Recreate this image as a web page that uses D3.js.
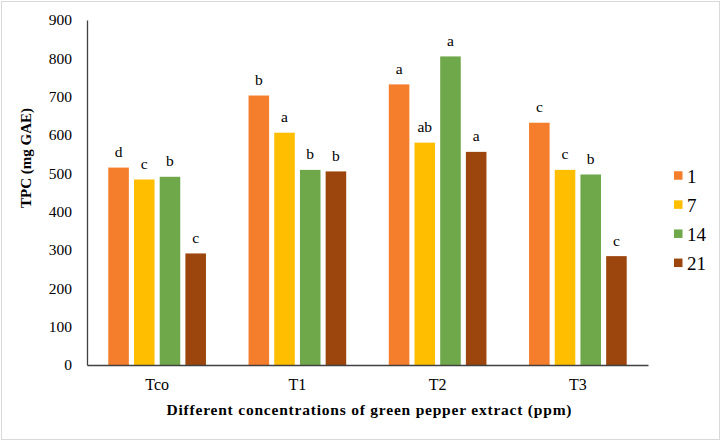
<!DOCTYPE html>
<html>
<head>
<meta charset="utf-8">
<script src="https://cdn.jsdelivr.net/npm/d3@7"></script>
<style>
  html, body { margin: 0; padding: 0; background: #fff; }
  svg { display: block; }
</style>
</head>
<body>
<svg id="chart" width="721" height="441"></svg>
<script>
const categories = ["Tco", "T1", "T2", "T3"];
const seriesNames = ["1", "7", "14", "21"];
const seriesColors = ["#F47E2B", "#FFBF00", "#6FA84A", "#9C460D"];
const values1 = [515, 703, 732, 632];
const values7 = [484, 606, 580, 509];
const values14 = [491, 509, 805, 497];
const values21 = [291, 505, 556, 284];
const letters1 = ["d", "b", "a", "c"];
const letters7 = ["c", "a", "ab", "c"];
const letters14 = ["b", "b", "a", "b"];
const letters21 = ["c", "b", "a", "c"];
const yTicks = [0, 100, 200, 300, 400, 500, 600, 700, 800, 900];

const seriesValues = [values1, values7, values14, values21];
const seriesLetters = [letters1, letters7, letters14, letters21];

const svg = d3.select("#chart");
const FONT = '"Liberation Serif"';

// outer frame
svg.append("rect").attr("x", 1.5).attr("y", 1.5).attr("width", 718).attr("height", 438)
  .attr("fill", "#fff").attr("stroke", "#d9d9d9").attr("stroke-width", 1);

const pLeft = 87, pRight = 648, pTop = 20, pBottom = 365;

const y = d3.scaleLinear().domain([0, 900]).range([pBottom, pTop]);
const x0 = d3.scaleBand().domain(categories).range([pLeft, pRight]).paddingInner(0.267).paddingOuter(0.1335);
const x1 = d3.scaleBand().domain(seriesNames).range([0, x0.bandwidth()]).paddingInner(0.2).paddingOuter(0.1);

// bars
const data = [];
categories.forEach((c, ci) => {
  seriesNames.forEach((s, si) => {
    data.push({ cat: c, ser: s, si: si, value: seriesValues[si][ci], letter: seriesLetters[si][ci] });
  });
});

const g = svg.append("g");
g.selectAll("rect.bar").data(data).join("rect")
  .attr("class", "bar")
  .attr("x", d => x0(d.cat) + x1(d.ser))
  .attr("y", d => y(d.value))
  .attr("width", x1.bandwidth())
  .attr("height", d => y(0) - y(d.value))
  .attr("fill", d => seriesColors[d.si]);

g.selectAll("text.lbl").data(data).join("text")
  .attr("class", "lbl")
  .attr("x", d => x0(d.cat) + x1(d.ser) + x1.bandwidth() / 2)
  .attr("y", d => y(d.value) - 10.5)
  .attr("text-anchor", "middle")
  .style("font-family", FONT)
  .attr("font-size", 15.5)
  .attr("fill", "#000")
  .text(d => d.letter);

// y axis
const yAxis = d3.axisLeft(y).tickValues(yTicks).tickSize(0).tickPadding(15);
const ya = svg.append("g").attr("transform", `translate(${pLeft},0)`).call(yAxis);
ya.select(".domain").attr("stroke", "#404040").attr("stroke-width", 1.3);
ya.selectAll("text").style("font-family", FONT).attr("font-size", 15.5).attr("fill", "#000");

// x axis
const xAxis = d3.axisBottom(x0).tickSize(0).tickPadding(14);
const xa = svg.append("g").attr("transform", `translate(0,${pBottom})`).call(xAxis);
xa.select(".domain").attr("stroke", "#404040").attr("stroke-width", 1.3);
xa.selectAll("text").style("font-family", FONT).attr("font-size", 16).attr("fill", "#000");

// axis titles
svg.append("text")
  .attr("transform", `translate(31,158) rotate(-90)`)
  .attr("text-anchor", "middle")
  .style("font-family", FONT)
  .attr("font-size", 15).attr("font-weight", "bold")
  .text("TPC (mg GAE)");

svg.append("text")
  .attr("x", 369).attr("y", 415)
  .attr("text-anchor", "middle")
  .style("font-family", FONT)
  .attr("font-size", 15.5).attr("font-weight", "bold")
  .attr("textLength", 405).attr("lengthAdjust", "spacing")
  .text("Different concentrations of green pepper extract (ppm)");

// legend
const legend = svg.append("g").attr("transform", "translate(674,175.5)");
seriesNames.forEach((s, i) => {
  const lg = legend.append("g").attr("transform", `translate(0,${i * 29.1})`);
  lg.append("rect").attr("x", 0).attr("y", -4.25).attr("width", 8.5).attr("height", 8.5).attr("fill", seriesColors[i]);
  lg.append("text").attr("x", 13).attr("y", 7)
    .style("font-family", FONT)
    .attr("font-size", 19).attr("fill", "#000").text(s);
});
</script>
</body>
</html>
